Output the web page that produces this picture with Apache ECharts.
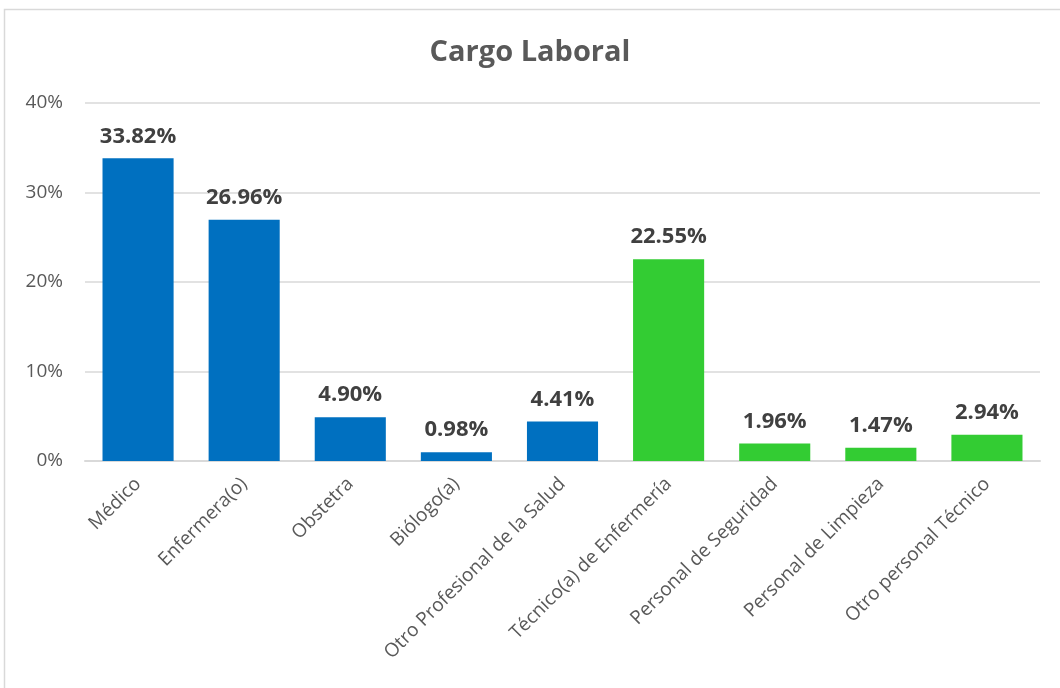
<!DOCTYPE html>
<html><head><meta charset="utf-8">
<script src="https://cdn.jsdelivr.net/npm/echarts@6/dist/echarts.min.js"></script>
<style>html,body{margin:0;padding:0;background:#fff}#c{width:1060px;height:688px}</style>
</head><body><div id="c"></div>
<script>
const categories = ["Médico","Enfermera(o)","Obstetra","Biólogo(a)","Otro Profesional de la Salud","Técnico(a) de Enfermería","Personal de Seguridad","Personal de Limpieza","Otro personal Técnico"];
const values = [33.82, 26.96, 4.90, 0.98, 4.41, 22.55, 1.96, 1.47, 2.94];
const groups = ["prof","prof","prof","prof","prof","tec","tec","tec","tec"];
const yTicks = [0, 10, 20, 30, 40];
const groupColors = {prof: "#0070C0", tec: "#33CC33"};
const font = "Open Sans";
const chart = echarts.init(document.getElementById('c'), null, {renderer: 'canvas'});
chart.setOption({
  animation: false,
  backgroundColor: '#fff',
  graphic: [{type: 'rect', shape: {x: 4.5, y: 9.5, width: 1070, height: 700}, style: {fill: 'none', stroke: '#d9d9d9', lineWidth: 1.5}, silent: true}],
  title: {text: 'Cargo Laboral', left: 'center', top: 33, textStyle: {fontFamily: font, fontSize: 29, fontWeight: 'bold', color: '#595959'}},
  grid: {left: 85, right: 20, top: 103, bottom: 227},
  xAxis: {type: 'category', data: categories,
    axisLine: {lineStyle: {color: '#d9d9d9', width: 2}}, axisTick: {show: false},
    axisLabel: {rotate: 45, interval: 0, margin: 20, color: '#595959', fontFamily: font, fontSize: 19}},
  yAxis: {type: 'value', min: yTicks[0], max: yTicks[yTicks.length-1], interval: 10,
    axisLine: {show: false}, axisTick: {show: false},
    splitLine: {lineStyle: {color: '#d9d9d9', width: 1.5}},
    axisLabel: {formatter: '{value}%', margin: 22, color: '#595959', fontFamily: font, fontSize: 19}},
  series: [{type: 'bar', data: values, barWidth: '67%',
    itemStyle: {color: p => groupColors[groups[p.dataIndex]]},
    label: {show: true, position: 'top', distance: 11, formatter: p => p.value.toFixed(2) + '%',
      color: '#404040', fontFamily: font, fontSize: 22, fontWeight: 'bold'}}]
});
</script></body></html>
